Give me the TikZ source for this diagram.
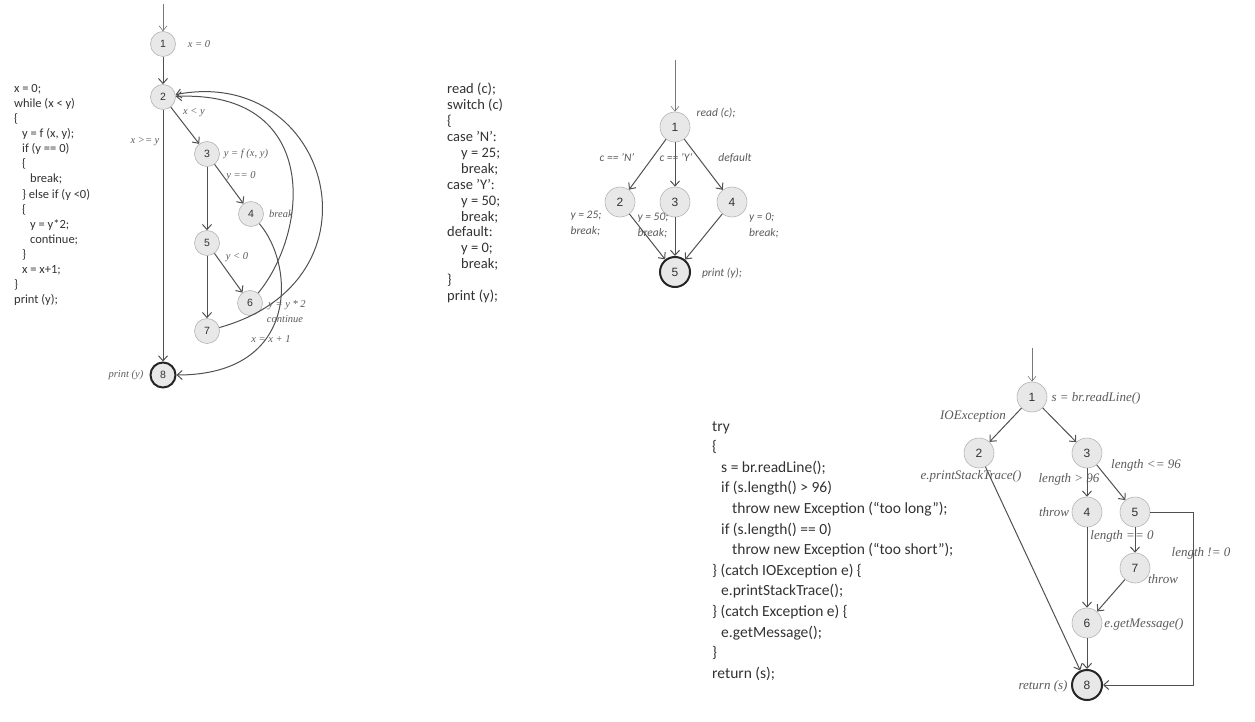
\documentclass[tikz,border=0pt]{standalone}
\usepackage{fontspec}
\setmainfont{Carlito}
\newfontfamily\seriffont{Liberation Serif}
\newfontfamily\numfont{Liberation Sans}
\usetikzlibrary{arrows.meta}
\definecolor{codegray}{RGB}{50,50,50}
\definecolor{edgegray}{RGB}{80,80,80}
\definecolor{entrygray}{RGB}{120,120,120}
\definecolor{nodefill}{RGB}{232,232,232}
\definecolor{nodeline}{RGB}{180,180,180}
\definecolor{lblgray}{RGB}{90,90,90}
\newcommand{\ind}[1]{\hspace*{#1pt}}
\tikzset{
  code/.style={anchor=north west, align=left, inner sep=0pt,
    text=codegray, font=\fontsize{12.5}{15.1}\selectfont},
  cfgnode/.style={circle, draw=nodeline, fill=nodefill, minimum size=25pt,
    inner sep=0pt, text=codegray, font=\numfont\fontsize{10.5}{12}\selectfont,
    line width=0.6pt},
  bignode/.style={cfgnode, minimum size=30pt, font=\numfont\fontsize{12}{13}\selectfont},
  exitnode/.style={line width=2pt, draw=black!85},
  edge/.style={-{Straight Barb[length=5pt,width=9pt]}, draw=edgegray, line width=1pt},
  entry/.style={-{Straight Barb[length=5pt,width=8pt]}, draw=entrygray, line width=0.6pt},
  lbl/.style={inner sep=1pt, text=lblgray, font=\seriffont\itshape\fontsize{10.5}{11}\selectfont},
  mlbl/.style={inner sep=1pt, text=lblgray, align=left, font=\itshape\fontsize{11.5}{16}\selectfont},
  blbl/.style={inner sep=1pt, text=lblgray, font=\seriffont\itshape\fontsize{13}{14}\selectfont}
}

\begin{document}
\begin{tikzpicture}[x=1pt, y=1pt]
  \useasboundingbox (0,0) rectangle (1255,-722);

  % while loop code
  \node[code] (loopcode) at (14,-84) {x = 0;\\
    while (x < y)\\
    \{\\
    \ind{8}y = f (x, y);\\
    \ind{8}if (y == 0)\\
    \ind{8}\{\\
    \ind{16}break;\\
    \ind{8}\} else if (y <0)\\
    \ind{8}\{\\
    \ind{16}y = y*2;\\
    \ind{16}continue;\\
    \ind{8}\}\\
    \ind{8}x = x+1;\\
    \}\\
    print (y);};

  % while loop graph
  \coordinate (lstart) at (163,-4);
  \node[cfgnode] (l1) at (163,-44) {1};
  \node[cfgnode] (l2) at (163,-97) {2};
  \node[cfgnode] (l3) at (207,-154) {3};
  \node[cfgnode] (l4) at (251,-214) {4};
  \node[cfgnode] (l5) at (207,-243) {5};
  \node[cfgnode] (l6) at (250,-303) {6};
  \node[cfgnode] (l7) at (207,-331) {7};
  \node[cfgnode, exitnode] (l8) at (163,-375) {8};

  \draw[entry] (lstart) -- (l1);
  \draw[edge] (l1) -- (l2);
  \draw[edge] (l2) -- (l3);
  \draw[edge] (l2) -- (l8);
  \draw[edge] (l3) -- (l4);
  \draw[edge] (l3) -- (l5);
  \draw[edge] (l5) -- (l6);
  \draw[edge] (l5) -- (l7);
  \draw[edge] (l6) .. controls (310,-230) and (320,-90) .. (l2);
  \draw[edge] (l7) .. controls (390,-280) and (330,-65) .. (l2);
  \draw[edge] (l4) .. controls (295,-265) and (300,-375) .. (l8);

  \node[lbl] (lx0) at (199,-44) {x = 0};
  \node[lbl] (lxy) at (194,-113) {x < y};
  \node[lbl] (lxge) at (145,-142) {x >= y};
  \node[lbl] (lfxy) at (246,-154) {y = f (x, y)};
  \node[lbl] (ly0) at (241,-176) {y == 0};
  \node[lbl] (lbrk) at (281,-214) {break};
  \node[lbl] (lylt) at (237,-257) {y < 0};
  \node[lbl] (ly2) at (287,-305) {y = y * 2};
  \node[lbl] (lcont) at (285,-319) {continue};
  \node[lbl] (lx1) at (271,-339) {x = x + 1};
  \node[lbl] (lprint) at (126,-375) {print (y)};

  % switch code
  \node[code, font=\fontsize{14.5}{15.9}\selectfont] (switchcode) at (447,-83) {read (c);\\
    switch (c)\\
    \{\\
    case 'N':\\
    \ind{14}y = 25;\\
    \ind{14}break;\\
    case 'Y':\\
    \ind{14}y = 50;\\
    \ind{14}break;\\
    default:\\
    \ind{14}y = 0;\\
    \ind{14}break;\\
    \}\\
    print (y);};

  % switch graph
  \coordinate (sstart) at (675,-60);
  \node[bignode] (s1) at (675,-127) {1};
  \node[bignode] (s2) at (620,-202) {2};
  \node[bignode] (s3) at (675,-202) {3};
  \node[bignode] (s4) at (732,-202) {4};
  \node[bignode, exitnode] (s5) at (675,-272) {5};

  \draw[entry] (sstart) -- (s1);
  \draw[edge] (s1) -- (s2);
  \draw[edge] (s1) -- (s3);
  \draw[edge] (s1) -- (s4);
  \draw[edge] (s2) -- (s5);
  \draw[edge] (s3) -- (s5);
  \draw[edge] (s4) -- (s5);

  \node[mlbl] (sread) at (716,-113) {read (c);};
  \node[mlbl] (scn) at (617,-158) {c == 'N'};
  \node[mlbl] (scy) at (676,-158) {c == 'Y'};
  \node[mlbl] (sdef) at (735,-158) {default};
  \node[mlbl] (sy25) at (586,-224) {y = 25;\\break;};
  \node[mlbl] (sy50) at (653,-226) {y = 50;\\break;};
  \node[mlbl] (sy0) at (764,-226) {y = 0;\\break;};
  \node[mlbl] (sprint) at (722,-273) {print (y);};

  % try/catch code
  \node[code, font=\fontsize{15.5}{20.6}\selectfont] (trycode) at (712,-421) {try\\
    \{\\
    \ind{9}s = br.readLine();\\
    \ind{9}if (s.length() > 96)\\
    \ind{20}throw new Exception (“too long”);\\
    \ind{9}if (s.length() == 0)\\
    \ind{20}throw new Exception (“too short”);\\
    \} (catch IOException e) \{\\
    \ind{9}e.printStackTrace();\\
    \} (catch Exception e) \{\\
    \ind{9}e.getMessage();\\
    \}\\
    return (s);};

  % try/catch graph
  \coordinate (tstart) at (1032,-348);
  \node[bignode] (t1) at (1032,-397) {1};
  \node[bignode] (t2) at (979,-453) {2};
  \node[bignode] (t3) at (1087,-453) {3};
  \node[bignode] (t4) at (1087,-512) {4};
  \node[bignode] (t5) at (1135,-512) {5};
  \node[bignode] (t7) at (1135,-568) {7};
  \node[bignode] (t6) at (1087,-623) {6};
  \node[bignode, exitnode] (t8) at (1087,-685) {8};

  \draw[entry] (tstart) -- (t1);
  \draw[edge] (t1) -- (t2);
  \draw[edge] (t1) -- (t3);
  \draw[edge] (t3) -- (t4);
  \draw[edge] (t3) -- (t5);
  \draw[edge] (t4) -- (t6);
  \draw[edge] (t5) -- (t7);
  \draw[edge] (t7) -- (t6);
  \draw[edge] (t6) -- (t8);
  \draw[edge] (t2) -- (t8);
  \draw[edge] (t5) -- ++(58,0) |- (t8);

  \node[blbl] (tread) at (1096,-398) {s = br.readLine()};
  \node[blbl] (tioe) at (973,-417) {IOException};
  \node[blbl] (tstack) at (971,-476) {e.printStackTrace()};
  \node[blbl] (tgt) at (1069,-479) {length > 96};
  \node[blbl] (tle) at (1146,-465) {length <= 96};
  \node[blbl] (tthrow) at (1054,-512) {throw};
  \node[blbl] (teq) at (1122,-536) {length == 0};
  \node[blbl] (tne) at (1201,-553) {length != 0};
  \node[blbl] (tthrow2) at (1163,-579) {throw};
  \node[blbl] (tmsg) at (1144,-624) {e.getMessage()};
  \node[blbl] (tret) at (1043,-686) {return (s)};
\end{tikzpicture}
\end{document}
